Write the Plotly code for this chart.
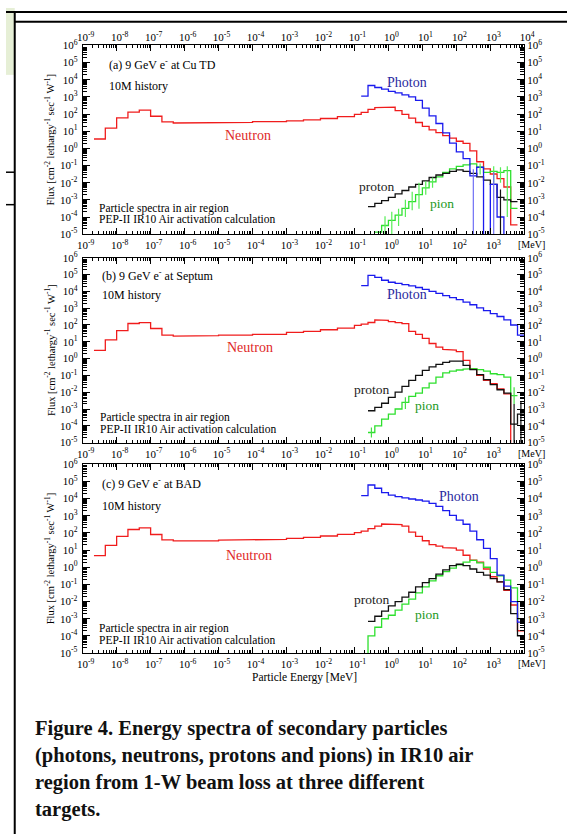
import math
import plotly.graph_objects as go

W, H = 578, 840

# ---------------- data (energies in MeV, flux in cm^-2 lethargy^-1 s^-1 W^-1) ----------------
E_LOW = [2.15e-9, 4.64e-9, 1e-8, 2.15e-8, 4.64e-8, 1e-7, 2.15e-7, 4.64e-7,
         1e-6, 1e-5, 1e-4, 1e-3, 3.16e-3, 1e-2, 3.16e-2, 0.1]
E_HIGH = [0.158, 0.251, 0.398, 0.631, 1.0, 1.58, 2.51, 3.98, 6.31, 10, 15.8, 25.1,
          39.8, 63.1, 100, 158, 251, 398, 631, 1000, 1580, 2510, 3980, 6310, 10000]
NEUTRON_EDGES = E_LOW + E_HIGH

# (a) 9 GeV e- at Cu TD
a_neutron = [3.5, 15, 59, 130, 170, 74, 35, 30, 30, 33, 36, 40, 46, 55, 71, 95,
             125, 186, 234, 251, 250, 158, 95, 58, 32, 19, 12, 8.3, 5.5, 3.9, 2.6, 1.95,
             0.71, 0.166, 0.063, 0.032, 0.017, 0.0056, 3.5e-5, None]
a_photon = [1.1e3, 4.6e3, 3.5e3, 2.8e3, 2.1e3, 1.7e3, 1.3e3, 1.0e3, 630, 220, 79, 28,
            7.9, 2.0, 0.63, 0.25, 0.025, 0.079, 1e-9, 0.008, 1e-4, 1e-9, None, None]
a_proton = [None, 4.0e-4, 6.3e-4, 8.9e-4, 1.4e-3, 2.2e-3, 3.5e-3, 5.6e-3, 7.9e-3, 0.0126,
            0.02, 0.028, 0.035, 0.045, 0.056, 0.045, 0.035, 0.022, 0.014, 0.0079, 0.0014,
            1.0e-3, 7.9e-4, None]
a_pion = [None, None, 1.3e-5, 3.2e-5, 6.3e-5, 1.3e-4, 3.2e-4, 7.9e-4, 2.0e-3, 5.0e-3,
          0.011, 0.022, 0.04, 0.063, 0.089, 0.11, 0.126, 0.079, 0.04, 0.045, 0.04, 0.05,
          3.2e-4, None]
# statistical error bars (lower, upper) per high-energy bin
a_pion_err_lo = [None, None, None, 1e-6, 1e-5, 3e-5, 1e-4, 2.5e-4, 3e-4, 2e-3, 5e-3, None,
                 None, None, None, None, None, 0.03, None, 0.01, 0.01, 1e-4, None, None]
a_pion_err_hi = [None, None, None, 1.1e-4, 2e-4, 3e-4, 1e-3, 3e-3, 1e-2, 1.2e-2, 0.02, None,
                 None, None, None, None, None, 0.13, None, 0.09, 0.08, 0.09, None, None]
a_photon_err_lo = [None] * 16 + [1e-6, None, None, 1e-6, None, None, None, None]
a_photon_err_hi = [None] * 16 + [0.06, None, None, 0.04, None, None, None, None]
a_proton_err_lo = [None] * 20 + [1e-6, None, None, None]
a_proton_err_hi = [None] * 20 + [4e-3, None, None, None]

# (b) 9 GeV e- at Septum
b_neutron = [3.1, 13, 46, 123, 138, 62, 25, 22, 23, 25, 28, 36, 42, 52, 66, 95,
             112, 141, 200, 190, 158, 138, 120, 42, 28, 16, 7.9, 4.8, 3.5, 3.2, 2.6, 0.79,
             0.25, 0.1, 0.05, 0.032, 0.016, 0.008, 1e-9, None]
b_photon = [2.2e4, 8.9e4, 6.8e4, 4.6e4, 3.5e4, 3.0e4, 2.5e4, 2.1e4, 1.7e4, 1.3e4, 1.0e4,
            7.6e3, 5.6e3, 4.2e3, 3.2e3, 2.3e3, 1.6e3, 1.05e3, 710, 480, 320, 200, 100, 25]
b_proton = [None, 7.9e-4, 1.26e-3, 2.2e-3, 5.0e-3, 0.01, 0.022, 0.05, 0.1, 0.2, 0.32, 0.45,
            0.6, 0.71, 0.71, 0.4, 0.22, 0.11, 0.056, 0.028, 0.014, 0.0089, 1.26e-4, 5.0e-4]
b_pion = [None, 4.0e-5, 1.0e-4, 2.5e-4, 5.0e-4, 1.0e-3, 2.5e-3, 5.6e-3, 8.9e-3, 0.018,
          0.035, 0.079, 0.14, 0.18, 0.21, 0.24, 0.25, 0.22, 0.18, 0.126, 0.11, 0.079,
          6.3e-3, None]
b_pion_err_lo = [None, 2e-5, None, None, None, None, 1e-3, None, None, None, None, None,
                 None, None, None, None, None, None, None, None, None, None, 2e-3, None]
b_pion_err_hi = [None, 8e-5, None, None, None, None, 5e-3, None, None, None, None, None,
                 None, None, None, None, None, None, None, None, None, None, 0.02, None]
b_proton_err_lo = [None] * 22 + [1e-6, 1e-6]
b_proton_err_hi = [None] * 22 + [2e-3, 3e-3]

# (c) 9 GeV e- at BAD
c_neutron = [4.7, 19, 63, 158, 195, 81, 39, 34, 35, 38, 42, 48, 55, 66, 83, 105,
             126, 178, 251, 331, 331, 302, 251, 112, 63, 35, 21, 17, 14, 13, 10, 5.0,
             2.6, 2.0, 0.79, 0.28, 0.14, 0.045, 6.3e-3, 2.0e-4]
c_photon = [1.5e4, 6.2e4, 4.0e4, 2.2e4, 1.6e4, 1.3e4, 1.1e4, 9.5e3, 8.3e3, 7.1e3, 5.2e3,
            3.5e3, 2.0e3, 1.05e3, 560, 320, 126, 40, 12.6, 3.2, 0.35, 0.079, 0.01, 6.3e-4]
c_proton = [None, 7.1e-4, 1.4e-3, 2.8e-3, 5.6e-3, 0.01, 0.018, 0.035, 0.071, 0.126, 0.22,
            0.4, 0.71, 1.26, 1.5, 1.26, 0.79, 0.5, 0.35, 0.22, 0.14, 0.05, 2.0e-3, 1.0e-4]
c_pion = [1e-9, 1.0e-4, 3.2e-4, 1.0e-3, 1.6e-3, 3.2e-3, 7.1e-3, 0.014, 0.032, 0.071, 0.16,
          0.32, 0.56, 0.89, 1.4, 2.0, 2.5, 1.8, 1.0, 0.5, 0.32, 0.18, 0.063, 1.0e-3]

PANEL_TITLES = ["(a) 9 GeV e<sup>-</sup> at Cu TD", "(b) 9 GeV e<sup>-</sup> at Septum",
                "(c) 9 GeV e<sup>-</sup> at BAD"]

X_EXP = list(range(-9, 5))
Y_EXP = list(range(-5, 7))

# ---------------- styling ----------------
RED, BLUE, BLACK, GREEN = "#f01c1c", "#1a1aee", "#111111", "#2ee02e"
SERIF = "Liberation Serif, Times New Roman, serif"

X_DOM = [79 / W, 534 / W]
PANEL_PX = [(38, 230), (254, 442), (464, 656)]


def ydom(top, bot):
    return [1 - bot / H, 1 - top / H]


def step_xy(edges, values):
    xs, ys = [], []
    for i, v in enumerate(values):
        if v is None:
            xs.append(None)
            ys.append(None)
            continue
        xs += [edges[i], edges[i + 1]]
        ys += [v, v]
    return xs, ys


fig = go.Figure()

panels = [
    (a_neutron, a_photon, a_proton, a_pion),
    (b_neutron, b_photon, b_proton, b_pion),
    (c_neutron, c_photon, c_proton, c_pion),
]
errors = [
    [(a_pion, a_pion_err_lo, a_pion_err_hi, "#55ee55"),
     (a_photon, a_photon_err_lo, a_photon_err_hi, "#6f6ff5"),
     (a_proton, a_proton_err_lo, a_proton_err_hi, BLACK)],
    [(b_pion, b_pion_err_lo, b_pion_err_hi, "#44e044"),
     (b_proton, b_proton_err_lo, b_proton_err_hi, BLACK)],
    [],
]

for k, (neu, pho, pro, pio) in enumerate(panels):
    xa = "x" if k == 0 else f"x{k + 1}"
    ya = "y" if k == 0 else f"y{k + 1}"
    for edges, vals, col in [(NEUTRON_EDGES, neu, RED), (E_HIGH, pio, GREEN),
                             (E_HIGH, pro, BLACK), (E_HIGH, pho, BLUE)]:
        xs, ys = step_xy(edges, vals)
        fig.add_trace(go.Scatter(x=xs, y=ys, mode="lines", xaxis=xa, yaxis=ya,
                                 line=dict(color=col, width=1.3), showlegend=False,
                                 hoverinfo="skip", connectgaps=False))
    for vals, lo, hi, col in errors[k]:
        cx, cy, up, dn = [], [], [], []
        for i, v in enumerate(vals):
            if v is None or lo[i] is None:
                continue
            cx.append(math.sqrt(E_HIGH[i] * E_HIGH[i + 1]))
            cy.append(v)
            up.append(hi[i] - v)
            dn.append(v - lo[i])
        fig.add_trace(go.Scatter(x=cx, y=cy, mode="markers", xaxis=xa, yaxis=ya,
                                 marker=dict(size=1, color=col), showlegend=False,
                                 hoverinfo="skip",
                                 error_y=dict(type="data", symmetric=False, array=up,
                                              arrayminus=dn, color=col, thickness=1.2,
                                              width=0)))
    # empty traces to register the overlay (top / right) axes
    fig.add_trace(go.Scatter(x=[], y=[], xaxis=f"x{k + 4}", yaxis=ya, showlegend=False))
    fig.add_trace(go.Scatter(x=[], y=[], xaxis=xa, yaxis=f"y{k + 4}", showlegend=False))

XT = [10.0 ** e for e in X_EXP]
YT = [10.0 ** e for e in Y_EXP]
XM = [m * 10.0 ** e for e in X_EXP[:-1] for m in range(2, 10)]
YM = [m * 10.0 ** e for e in Y_EXP[:-1] for m in range(2, 10)]
xt_top = [f"10<sup>{e}</sup>" for e in X_EXP]
xt_bot = [f"10<sup>{e}</sup>" for e in X_EXP[:-1]] + [""]
yt = [f"10<sup>{e}</sup>" for e in Y_EXP]
tickfont = dict(family=SERIF, size=11, color="black")

layout = dict(width=W, height=H, margin=dict(l=0, r=0, t=0, b=0),
              paper_bgcolor="white", plot_bgcolor="white", showlegend=False)

for k, (top, bot) in enumerate(PANEL_PX):
    n = "" if k == 0 else str(k + 1)
    yd = ydom(top, bot)
    common_x = dict(type="log", range=[-9, 4], domain=X_DOM, showgrid=False, zeroline=False,
                    tickmode="array", tickvals=XT, ticks="inside", ticklen=6, tickwidth=1,
                    tickcolor="black", tickfont=tickfont, ticklabelstandoff=1,
                    ticklabelshift=3,
                    minor=dict(ticks="inside", ticklen=3, tickwidth=1, tickcolor="black",
                               tickmode="array", tickvals=XM, showgrid=False))
    common_y = dict(type="log", range=[-5, 6], domain=yd, showgrid=False, zeroline=False,
                    tickmode="array", tickvals=YT, ticktext=yt, ticks="inside", ticklen=7,
                    tickwidth=1, tickcolor="black", tickfont=tickfont, ticklabelstandoff=2,
                    minor=dict(ticks="inside", ticklen=4, tickwidth=1, tickcolor="black",
                               tickmode="array", tickvals=YM, showgrid=False))
    layout[f"xaxis{n}"] = dict(common_x, anchor=f"y{n}", side="bottom", ticktext=xt_bot,
                               showline=True, linecolor="black", linewidth=1, mirror=True)
    layout[f"xaxis{k + 4}"] = dict(common_x, anchor=f"y{n}", side="top", ticktext=xt_top,
                                   overlaying=f"x{n}", showline=False,
                                   showticklabels=(k == 0))
    layout[f"yaxis{n}"] = dict(common_y, anchor=f"x{n}", side="left",
                               showline=True, linecolor="black", linewidth=1, mirror=True)
    layout[f"yaxis{k + 4}"] = dict(common_y, anchor=f"x{n}", side="right",
                                   overlaying=f"y{n}", showline=False)

fig.update_layout(**layout)


def ann(text, xp, yp, size=11, color="black", xanchor="left", bold=False, angle=0):
    fig.add_annotation(text=f"<b>{text}</b>" if bold else text, x=xp / W, y=1 - yp / H,
                       xref="paper", yref="paper", xanchor=xanchor, yanchor="middle",
                       showarrow=False, textangle=angle, borderpad=0,
                       font=dict(family=SERIF, size=size, color=color))


YLABEL = "Flux [cm<sup>-2</sup> lethargy<sup>-1</sup> sec<sup>-1</sup> W<sup>-1</sup>]"

label_pos = [
    dict(title=(105, 57), hist=(105, 79), neu=(225, 130), pho=(392, 76), pro=(363, 182),
         pio=(436, 199), notes=(95, 203.5, 214.5)),
    dict(title=(98, 272), hist=(98, 292), neu=(227, 345), pho=(392, 291), pro=(357, 388),
         pio=(420, 404), notes=(96, 416.5, 428.5)),
    dict(title=(98, 484), hist=(98, 506), neu=(226, 557), pho=(445, 497), pro=(357, 602),
         pio=(420, 617), notes=(95, 631, 643)),
]

for k, lp in enumerate(label_pos):
    top, bot = PANEL_PX[k]
    ann(PANEL_TITLES[k], *lp["title"], size=12)
    ann("10M history", *lp["hist"], size=12)
    ann("Neutron", *lp["neu"], size=14, color="#e02828")
    ann("Photon", *lp["pho"], size=14, color="#2a2aa0")
    ann("proton", *lp["pro"], size=13.5, color="#222222")
    ann("pion", *lp["pio"], size=13.5, color="#229922")
    xn, y1, y2 = lp["notes"]
    ann("Particle spectra in air region", xn, y1, size=11.5)
    ann("PEP-II IR10 Air activation calculation", xn, y2, size=11.5)
    ann(YLABEL, 45, (top + bot) / 2, size=10.5, xanchor="center", angle=-90)
    ann("[MeV]", 541, bot + 11, size=10, xanchor="center")

ann("Particle Energy [MeV]", 308, 681, size=11.5, xanchor="center")

caption = ["Figure 4. Energy spectra of secondary particles",
           "(photons, neutrons, protons and pions) in IR10 air",
           "region from 1-W beam loss at three different",
           "targets."]
for i, line in enumerate(caption):
    ann(line, 29, 733 + i * 27.5, size=20.5, bold=True, color="#111111")

# page decorations from the scanned document
shapes = [
    dict(type="rect", x0=0, x1=9 / W, y0=1 - 68 / H, y1=1, fillcolor="#e6efd6",
         line=dict(width=0)),
    dict(type="line", x0=0, x1=1, y0=1 - 4 / H, y1=1 - 4 / H, line=dict(color="black", width=2)),
    dict(type="line", x0=9 / W, x1=1, y0=1 - 14 / H, y1=1 - 14 / H,
         line=dict(color="black", width=2)),
    dict(type="line", x0=9 / W, x1=9 / W, y0=0, y1=1 - 4 / H, line=dict(color="black", width=2)),
    dict(type="line", x0=0, x1=9 / W, y0=1 - 167 / H, y1=1 - 167 / H,
         line=dict(color="black", width=1.5)),
    dict(type="line", x0=0, x1=9 / W, y0=1 - 200 / H, y1=1 - 200 / H,
         line=dict(color="black", width=1.5)),
]
for s in shapes:
    s.update(xref="paper", yref="paper")
fig.update_layout(shapes=shapes)

fig.write_html("out.html", config={"displayModeBar": False},
               post_script="document.body.style.margin='0px';")
